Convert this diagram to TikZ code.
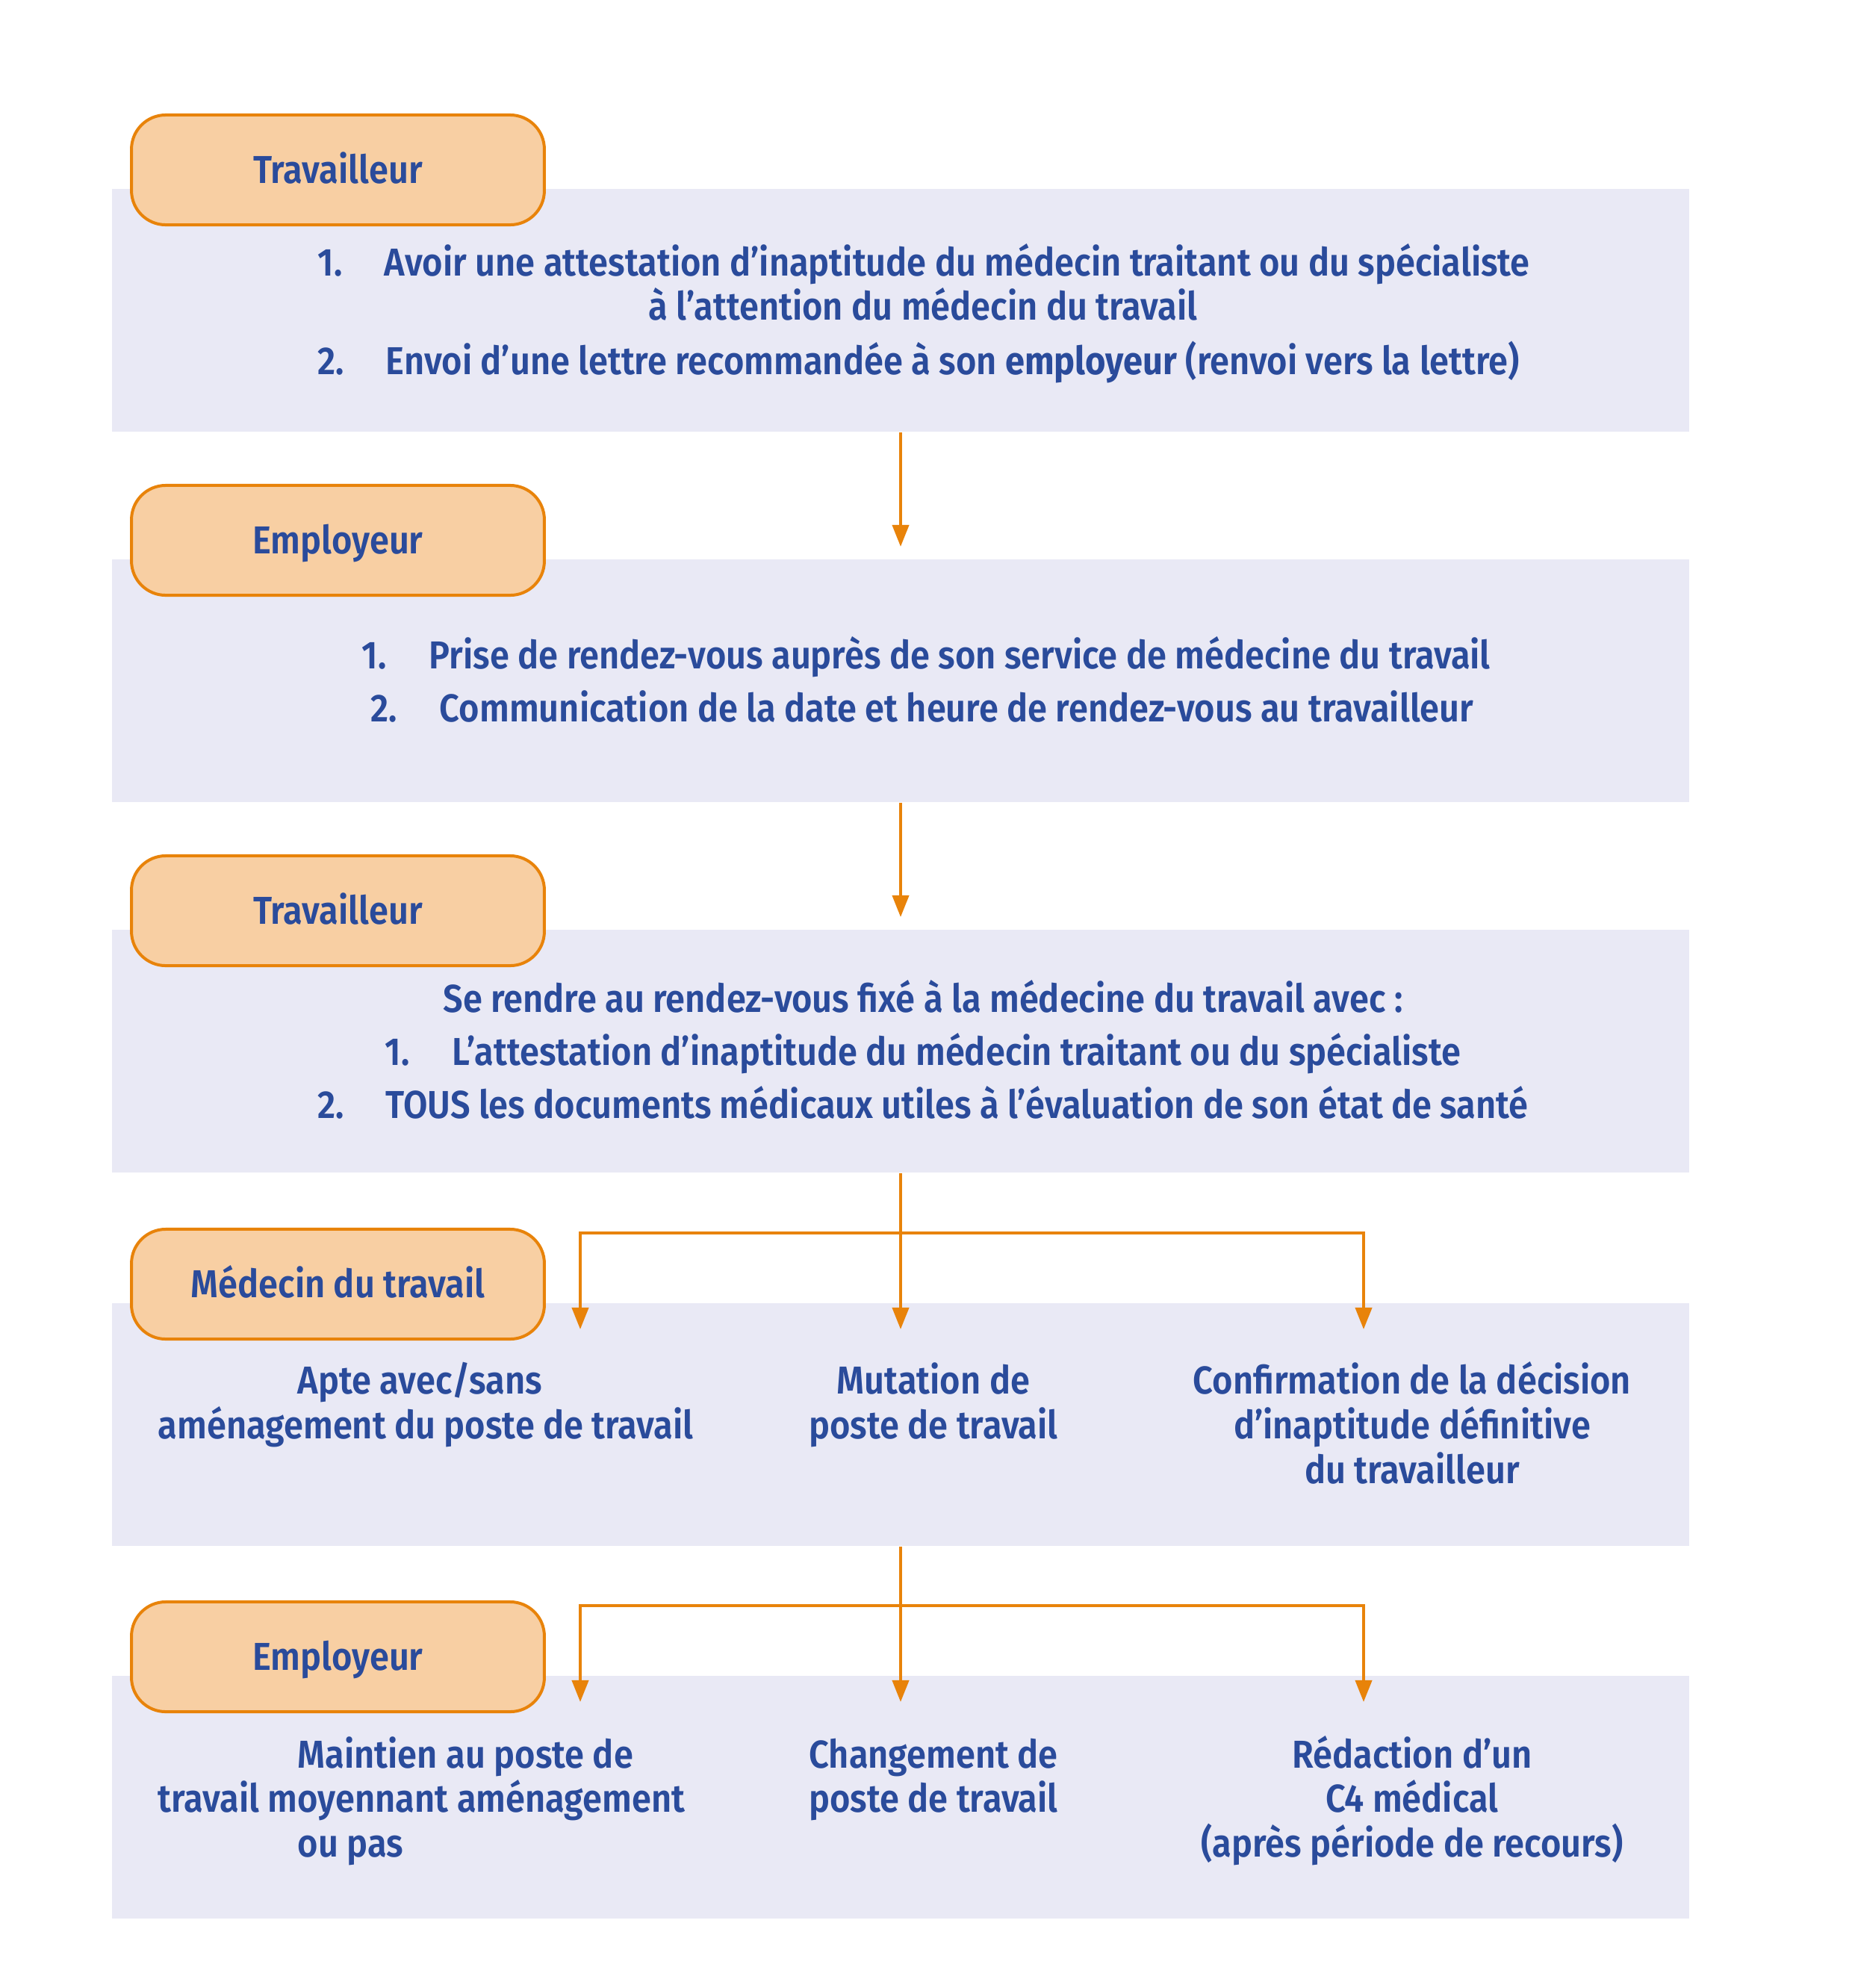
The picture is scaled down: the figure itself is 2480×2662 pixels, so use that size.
\documentclass[tikz,border=0pt]{standalone}
\usepackage{fontspec}
\setmainfont{Fira Sans}[UprightFont={* SemiBold}, BoldFont={* Bold}, FakeStretch=0.902]
\usetikzlibrary{arrows.meta}
\definecolor{txtblue}{HTML}{2A4B9B}
\definecolor{greyfill}{HTML}{E9E9F5}
\definecolor{orfill}{HTML}{F8CFA3}
\definecolor{orline}{HTML}{E8830A}
\newcommand{\mainsize}{\fontsize{12.5pt}{15pt}\selectfont}
\tikzset{
  greybox/.style={fill=greyfill, draw=none, minimum width=506.88pt, minimum height=78pt, inner sep=0pt},
  lab/.style={fill=orfill, draw=orline, line width=0.96pt, rounded corners=11pt,
    minimum width=132.7pt, minimum height=35.3pt, inner sep=0pt, text=txtblue, font=\mainsize,
    text height=8.6pt, text depth=0pt},
  txt/.style={text=txtblue, inner sep=0pt, font=\mainsize},
  lt/.style={txt, anchor=base west},
  ct/.style={txt, anchor=base},
  flow/.style={draw=orline, line width=0.96pt, -{Triangle[length=7pt,width=5.3pt]}},
  link/.style={draw=orline, line width=0.96pt}
}
\begin{document}
\begin{tikzpicture}[x=0.24pt,y=-0.24pt]
\useasboundingbox (0,0) rectangle (2480,2662);
% grey panels
\node[greybox] (g1) at (1206,415.5) {};
\node[greybox] (g2) at (1206,911.5) {};
\node[greybox] (g3) at (1206,1407.5) {};
\node[greybox] (g4) at (1206,1907.5) {};
\node[greybox] (g5) at (1206,2406.5) {};
% orange labels
\node[lab] (l1) at (452.5,227.5) {Travailleur};
\node[lab] (l2) at (452.5,723.5) {Employeur};
\node[lab] (l3) at (452.5,1219.5) {Travailleur};
\node[lab] (l4) at (452.5,1719.5) {Médecin du travail};
\node[lab] (l5) at (452.5,2218.5) {Employeur};
% box 1 texts
\node[lt] (t1n1) at (425,369) {1.};
\node[lt] (t1a) at (514,369) {Avoir une attestation d’inaptitude du médecin traitant ou du spécialiste};
\node[ct] (t1b) at (1236,428) {à l’attention du médecin du travail};
\node[lt] (t1n2) at (425,501) {2.};
\node[lt] (t1c) at (516,501) {Envoi d’une lettre recommandée à son \textbf{employeur} (renvoi vers la lettre)};
% box 2 texts
\node[lt] (t2n1) at (484,895) {1.};
\node[lt] (t2a) at (574,895) {Prise de rendez-vous auprès de son service de médecine du travail};
\node[lt] (t2n2) at (496,966) {2.};
\node[lt] (t2b) at (588,966) {Communication de la date et heure de rendez-vous au travailleur};
% box 3 texts
\node[ct] (t3a) at (1236,1355) {Se rendre au rendez-vous fixé à la médecine du travail avec :};
\node[lt] (t3n1) at (515,1426) {1.};
\node[lt] (t3b) at (605,1426) {L’attestation d’inaptitude du médecin traitant ou du spécialiste};
\node[lt] (t3n2) at (425,1497) {2.};
\node[lt] (t3c) at (516,1497) {TOUS les documents médicaux utiles à l’évaluation de son état de santé};
% box 4 texts
\node[lt] (t4a) at (398,1866) {Apte avec/sans};
\node[lt] (t4b) at (211,1926) {aménagement du poste de travail};
\node[ct] (t4c) at (1250,1866) {Mutation de};
\node[ct] (t4d) at (1250,1926) {poste de travail};
\node[ct] (t4e) at (1891,1866) {Confirmation de la décision};
\node[ct] (t4f) at (1891,1926) {d’inaptitude définitive};
\node[ct] (t4g) at (1891,1986) {du travailleur};
% box 5 texts
\node[lt] (t5a) at (398,2367) {Maintien au poste de};
\node[lt] (t5b) at (211,2426) {travail moyennant aménagement};
\node[lt] (t5c) at (398,2486) {ou pas};
\node[ct] (t5d) at (1250,2367) {Changement de};
\node[ct] (t5e) at (1250,2426) {poste de travail};
\node[ct] (t5f) at (1891,2367) {Rédaction d’un};
\node[ct] (t5g) at (1891,2426) {C4 médical};
\node[ct] (t5h) at (1891,2486) {(après période de recours)};
% connector points
\coordinate (a1) at (1206,732);
\coordinate (a2) at (1206,1228);
\coordinate (h1) at (1206,1651);
\coordinate (m1) at (1206,1780);
\coordinate (lf1) at (777,1780);
\coordinate (rt1) at (1826,1780);
\coordinate (h2) at (1206,2150);
\coordinate (m2) at (1206,2279);
\coordinate (lf2) at (777,2279);
\coordinate (rt2) at (1826,2279);
% connectors
\draw[flow] (g1.south) -- (a1);
\draw[flow] (g2.south) -- (a2);
\draw[flow] (g3.south) -- (m1);
\draw[flow] (h1) -| (lf1);
\draw[flow] (h1) -| (rt1);
\draw[flow] (g4.south) -- (m2);
\draw[flow] (h2) -| (lf2);
\draw[flow] (h2) -| (rt2);
\end{tikzpicture}
\end{document}
